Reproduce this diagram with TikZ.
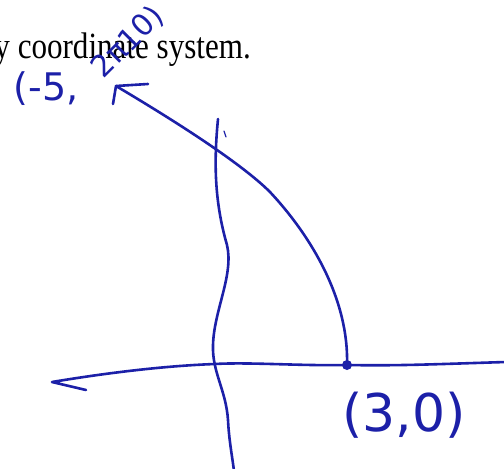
\documentclass[tikz,border=0pt]{standalone}
\usepackage{fontspec}
\setmainfont{Liberation Serif}
\newfontfamily\handfont{DejaVu Sans}
\usepackage{tikz}
\usetikzlibrary{calc}

\definecolor{inkblue}{RGB}{28,32,168}

\tikzset{
    ink/.style={draw=inkblue, line width=2.6pt, line cap=round, line join=round},
    handlabel/.style={text=inkblue, inner sep=0pt}
}

\begin{document}
\begin{tikzpicture}[x=1pt, y=-1pt]
        \useasboundingbox (0,0) rectangle (504,469);
        \node[anchor=base east, inner sep=0pt, font=\fontsize{37}{37}\selectfont]
            (caption) at (251,58) {\scalebox{0.84}[1]{y coordinate system.}};

        \coordinate (xright) at (506,362);
        \coordinate (xtip) at (52,382);
        \coordinate (xbarb) at (86,390);
        \coordinate (ytop) at (218,119);
        \coordinate (ybottom) at (234,471);
        \coordinate (tip) at (116,86);
        \coordinate (barbright) at (148,84);
        \coordinate (barbdown) at (113,104);
        \node[circle, fill=inkblue, inner sep=0pt, minimum size=10pt] (point) at (347,365) {};

        \draw[ink] (xright) .. controls (440,364) and (400,366) .. (point.center)
            .. controls (300,366) and (250,362) .. (215,364)
            .. controls (160,366) and (100,374) .. (xtip) -- (xbarb);
        \draw[ink] (ytop) .. controls (214,160) and (214,200) .. (227,245)
            .. controls (234,275) and (214,310) .. (213,345)
            .. controls (212,372) and (226,390) .. (228,420)
            .. controls (229,440) and (232,455) .. (ybottom);
        \draw[ink, line width=1.2pt] (224,131) -- (226,137);

        \draw[ink] (point.center) .. controls (349,300) and (312,237) .. (270,192)
            .. controls (240,162) and (170,118) .. (tip);
        \draw[ink] (barbright) -- (tip) -- (barbdown);

        \node[handlabel, font=\handfont\fontsize{38}{38}\selectfont] (polarlabel) at (46,89) {(-5,};
        \node[handlabel, font=\handfont\fontsize{30}{30}\selectfont, rotate=45]
            (anglelabel) at (128,42) {2π10)};
        \node[handlabel, font=\handfont\fontsize{52}{52}\selectfont] (cartlabel) at (404,415) {(3,0)};
    \end{tikzpicture}
\end{document}
